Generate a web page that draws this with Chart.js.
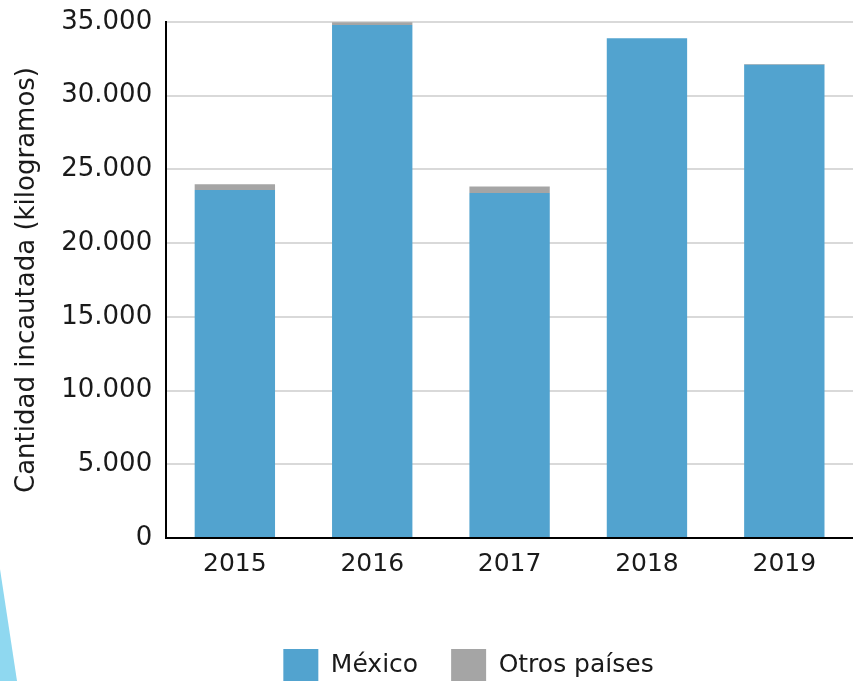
<!DOCTYPE html>
<html>
<head>
  <meta charset="utf-8" />
  <script src="https://cdn.jsdelivr.net/npm/chart.js@4.4.0/dist/chart.umd.min.js"></script>
  <style>
    body { margin:0; background:#fff; }
    #wrap { width:853px; height:681px; position:relative; }
  </style>
</head>
<body>
<div id="wrap"><canvas id="chart"></canvas></div>
<script>
const years   = ["2015", "2016", "2017", "2018", "2019"];
const mexico  = [23600, 34800, 23400, 33900, 32100];
const otros   = [400, 180, 450, 0, 50];
const yTicks  = [0, 5000, 10000, 15000, 20000, 25000, 30000, 35000];

const FONT = "'DejaVu Sans', sans-serif";
const INK = "#1a1a1a";

function fmt(v) {
  return String(v).replace(/\B(?=(\d{3})+(?!\d))/g, ".");
}

// light blue corner shape + legend nudge
const deco = {
  id: "deco",
  afterLayout(chart) {
    const lg = chart.legend;
    lg.left += 36; lg.right += 36;
    lg.top += 11; lg.bottom += 11;
  },
  beforeDraw(chart) {
    const c = chart.ctx;
    c.save();
    c.fillStyle = "#8fd8f0";
    c.beginPath();
    c.moveTo(0, 569); c.lineTo(17, 681); c.lineTo(0, 681);
    c.closePath(); c.fill();
    c.restore();
  }
};

new Chart(document.getElementById("chart"), {
  type: "bar",
  data: {
    labels: years,
    datasets: [
      { label: "México", data: mexico, backgroundColor: "#52a3cf", categoryPercentage: 1, barPercentage: 0.585 },
      { label: "Otros países", data: otros, backgroundColor: "#a5a5a5", categoryPercentage: 1, barPercentage: 0.585 }
    ]
  },
  options: {
    responsive: true, maintainAspectRatio: false, animation: false,
    layout: { padding: { top: 0, left: 12, right: 0, bottom: 0 } },
    plugins: {
      tooltip: { enabled: false },
      legend: {
        position: "bottom",
        labels: { boxWidth: 35, boxHeight: 33, padding: 33, color: INK, font: { family: FONT, size: 25 } }
      }
    },
    scales: {
      x: {
        stacked: true,
        grid: { display: false, drawTicks: false },
        border: { display: true, color: "#000", width: 2 },
        ticks: { color: INK, padding: 11, font: { family: FONT, size: 25 } },
        afterFit: s => { s.height = 67; }
      },
      y: {
        stacked: true,
        min: 0, max: 35000,
        afterBuildTicks: s => { s.ticks = yTicks.map(v => ({ value: v })); },
        afterFit: s => { s.paddingTop = 22; },
        grid: { color: "#d9d9d9", lineWidth: 2, drawTicks: false },
        border: { display: true, color: "#000", width: 2 },
        ticks: { color: INK, padding: 14, font: { family: FONT, size: 26 }, callback: v => fmt(v) },
        title: { display: true, text: "Cantidad incautada (kilogramos)", color: INK, padding: { top: 0, bottom: 4 }, font: { family: FONT, size: 26, weight: "normal" } }
      }
    }
  },
  plugins: [deco]
});
</script>
</body>
</html>
